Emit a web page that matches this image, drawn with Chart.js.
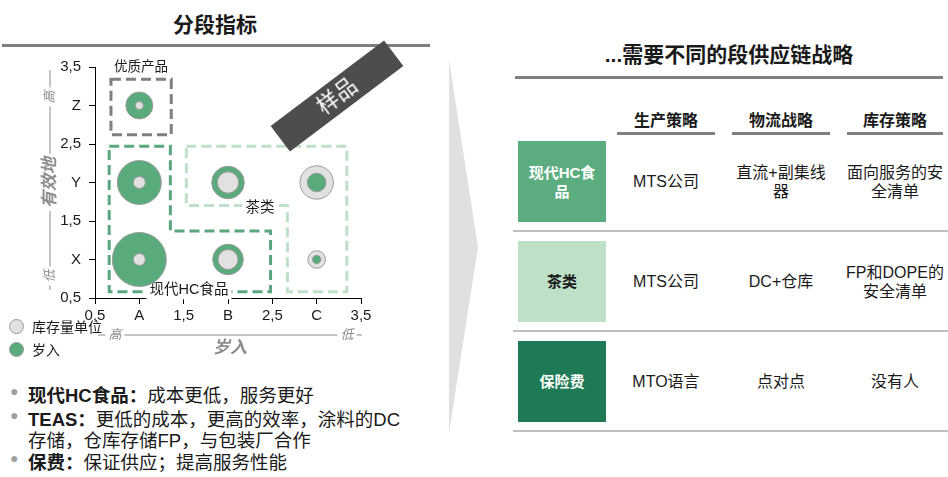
<!DOCTYPE html>
<html lang="zh">
<head>
<meta charset="utf-8">
<title>分段指标</title>
<script src="https://cdn.jsdelivr.net/npm/chart.js@4.4.1/dist/chart.umd.min.js"></script>
<style>
  body {
    margin: 0; width: 948px; height: 477px; position: relative; overflow: hidden; background: #fff;
    font-family: "Liberation Sans", Arial, "Noto Sans CJK SC", sans-serif; color: #1a1a1a;
  }
  .abs { position: absolute; }
  .title { font-size: 21px; font-weight: bold; text-align: center; white-space: nowrap; }
  .rule { background: #7f7f7f; height: 3px; }
  .sep { background: #bfbfbf; height: 2px; }
  .head { font-size: 16px; font-weight: bold; text-align: center; }
  .cell { display: flex; align-items: center; justify-content: center; text-align: center;
          font-size: 16px; line-height: 19px; }
  .seg { font-weight: bold; color: #fff; font-size: 15px; }
  .bullet { font-size: 18.5px; white-space: nowrap; }
  .bullet b { font-weight: bold; }
  .dot { color: #a0a0a0; font-size: 14px; position: absolute; left: -18px; top: 2px; }
  .leg { font-size: 14px; white-space: nowrap; display: flex; align-items: center; }
  .leg i { display: inline-block; width: 13px; height: 13px; border-radius: 50%;
           border: 1px solid #9a9a9a; margin-right: 8px; }
  #stamp { left: 266px; top: 80px; width: 142px; height: 32px; background: #4d4d4d; color: #fff;
           font-size: 22px; line-height: 32px; text-align: center; transform: rotate(-37deg); z-index: 5; }
</style>
</head>
<body>

<div class="abs title" style="left:0; width:430px; top:8px;">分段指标</div>
<div class="abs rule" style="left:2px; width:428px; top:44px;"></div>

<div class="abs" id="chartBox" style="left:0; top:0; width:440px; height:370px;">
  <canvas id="bubbleChart"></canvas>
</div>
<div class="abs" id="stamp">样品</div>

<div class="abs leg" style="left:9px; top:316px;"><i style="background:#e1e1e1"></i>库存量单位</div>
<div class="abs leg" style="left:9px; top:339px;"><i style="background:#5aab7c"></i>岁入</div>

<div class="abs bullet" style="left:28px; top:381px;"><span class="dot">●</span><b>现代HC食品：</b>成本更低，服务更好</div>
<div class="abs bullet" style="left:28px; top:405px;"><span class="dot">●</span><b>TEAS：</b>更低的成本，更高的效率，涂料的DC</div>
<div class="abs bullet" style="left:28px; top:426px;">存储，仓库存储FP，与包装厂合作</div>
<div class="abs bullet" style="left:28px; top:448px;"><span class="dot">●</span><b>保费：</b>保证供应；提高服务性能</div>

<svg class="abs" style="left:440px; top:50px;" width="50" height="400">
  <polygon points="9,10 38,197 9,383" fill="#e0e0e0"></polygon>
</svg>

<div class="abs title" style="left:515px; width:428px; top:38px;">...需要不同的段供应链战略</div>
<div class="abs rule" style="left:515px; width:428px; top:76px;"></div>

<div class="abs head" style="left:617px; width:98px; top:107px;">生产策略</div>
<div class="abs head" style="left:732px; width:98px; top:107px;">物流战略</div>
<div class="abs head" style="left:847px; width:96px; top:107px;">库存策略</div>
<div class="abs rule" style="left:617px; width:98px; top:132px;"></div>
<div class="abs rule" style="left:732px; width:98px; top:132px;"></div>
<div class="abs rule" style="left:847px; width:96px; top:132px;"></div>

<div class="abs cell seg" style="left:518px; width:88px; top:141px; height:81px; background:#5bad80;">现代HC食<br>品</div>
<div class="abs cell" style="left:617px; width:98px; top:141px; height:81px;">MTS公司</div>
<div class="abs cell" style="left:732px; width:98px; top:141px; height:81px;">直流+副集线<br>器</div>
<div class="abs cell" style="left:845px; width:100px; top:141px; height:81px;">面向服务的安<br>全清单</div>
<div class="abs sep" style="left:513px; width:435px; top:230px;"></div>

<div class="abs cell seg" style="left:518px; width:88px; top:241px; height:81px; background:#bee0c6; color:#1a1a1a;">茶类</div>
<div class="abs cell" style="left:617px; width:98px; top:241px; height:81px;">MTS公司</div>
<div class="abs cell" style="left:732px; width:98px; top:241px; height:81px;">DC+仓库</div>
<div class="abs cell" style="left:845px; width:100px; top:241px; height:81px;">FP和DOPE的<br>安全清单</div>
<div class="abs sep" style="left:513px; width:435px; top:330px;"></div>

<div class="abs cell seg" style="left:518px; width:88px; top:341px; height:81px; background:#1e7a55;">保险费</div>
<div class="abs cell" style="left:617px; width:98px; top:341px; height:81px;">MTO语言</div>
<div class="abs cell" style="left:732px; width:98px; top:341px; height:81px;">点对点</div>
<div class="abs cell" style="left:845px; width:100px; top:341px; height:81px;">没有人</div>
<div class="abs sep" style="left:513px; width:435px; top:430px;"></div>

<script>
// Tick labels for both axes (ticks every 0.5)
const xTickLabels = ['0,5', 'A', '1,5', 'B', '2,5', 'C', '3,5'];
const yTickLabels = ['0,5', 'X', '1,5', 'Y', '2,5', 'Z', '3,5'];

// Segment positions (A/B/C = 1/2/3, X/Y/Z = 1/2/3)
const pointX = [1, 1, 1, 2, 2, 3, 3];
const pointY = [3, 2, 1, 2, 1, 2, 1];

// Bubble radii
const revenueR = [13.5, 22, 27, 16.3, 15.3, 9.3, 4.2];   // 岁入
const skuR     = [4, 6, 6, 10.7, 10, 16.7, 8.8];          // 库存量单位

// Dashed segment outlines, in axis units
const premiumBox = [[0.68, 3.34], [1.36, 3.34], [1.36, 2.62], [0.68, 2.62]];
const modernBox  = [[0.66, 2.47], [1.35, 2.47], [1.35, 1.37], [2.48, 1.37], [2.48, 0.58], [0.66, 0.58]];
const teaBox     = [[1.53, 2.47], [3.34, 2.47], [3.34, 0.58], [2.67, 0.58], [2.67, 1.70], [1.53, 1.70]];

const GREEN = '#5aab7c';
const GREY = '#e1e1e1';
const FONT = '"Liberation Sans", Arial, "Noto Sans CJK SC", sans-serif';

// bigger circle goes underneath, smaller one on top
const outerPts = [], innerPts = [], outerCols = [], innerCols = [];
pointX.forEach((px, i) => {
    const revBig = revenueR[i] >= skuR[i];
    outerPts.push({ x: px, y: pointY[i], r: revBig ? revenueR[i] : skuR[i] });
    innerPts.push({ x: px, y: pointY[i], r: revBig ? skuR[i] : revenueR[i] });
    outerCols.push(revBig ? GREEN : GREY);
    innerCols.push(revBig ? GREY : GREEN);
});

function drawRegion(chart, pts, color) {
    const { ctx, scales: { x, y } } = chart;
    ctx.save();
    ctx.setLineDash([10, 5]);
    ctx.lineWidth = 3;
    ctx.strokeStyle = color;
    ctx.beginPath();
    pts.forEach(([px, py], i) => {
        const X = x.getPixelForValue(px), Y = y.getPixelForValue(py);
        if (i) ctx.lineTo(X, Y); else ctx.moveTo(X, Y);
    });
    ctx.closePath();
    ctx.stroke();
    ctx.restore();
}

function boxedText(ctx, text, x, y, font, color, rot) {
    ctx.save();
    ctx.translate(x, y);
    ctx.rotate(rot || 0);
    ctx.font = font;
    const w = ctx.measureText(text).width;
    ctx.fillStyle = '#fff';
    ctx.fillRect(-w / 2 - 3, -9, w + 6, 18);
    ctx.fillStyle = color;
    ctx.textAlign = 'center';
    ctx.textBaseline = 'middle';
    ctx.fillText(text, 0, 0);
    ctx.restore();
}

const segmentPlugin = {
    id: 'segments',
    beforeDatasetsDraw(chart) {
        const { ctx, scales: { x, y } } = chart;
        drawRegion(chart, premiumBox, '#7f7f7f');
        drawRegion(chart, modernBox, '#5aa67e');
        drawRegion(chart, teaBox, '#bfe0c8');
        boxedText(ctx, '优质产品', x.getPixelForValue(1.02), y.getPixelForValue(3.5), '13.5px ' + FONT, '#1a1a1a');
        boxedText(ctx, '现代HC食品', x.getPixelForValue(1.56), y.getPixelForValue(0.6), '14.5px ' + FONT, '#1a1a1a');
        boxedText(ctx, '茶类', x.getPixelForValue(2.36), y.getPixelForValue(1.67), '14.5px ' + FONT, '#1a1a1a');
    },
    afterDraw(chart) {
        const { ctx, chartArea: a } = chart;
        const grey = '#8c8c8c';
        ctx.save();
        ctx.strokeStyle = grey;
        ctx.lineWidth = 1;
        // x axis note
        const ly = a.bottom + 37;
        ctx.beginPath(); ctx.moveTo(a.left + 3, ly); ctx.lineTo(a.right + 1, ly); ctx.stroke();
        // y axis note
        const lx = a.left - 45;
        ctx.beginPath(); ctx.moveTo(lx, a.top + 3); ctx.lineTo(lx, a.bottom - 8); ctx.stroke();
        ctx.restore();

        boxedText(ctx, '高', a.left + 20, ly, 'italic 13px ' + FONT, grey);
        boxedText(ctx, '低', a.right - 14, ly, 'italic 13px ' + FONT, grey);
        ctx.save();
        ctx.font = 'italic bold 17px ' + FONT;
        ctx.fillStyle = grey;
        ctx.textAlign = 'center';
        ctx.textBaseline = 'middle';
        ctx.fillText('岁入', (a.left + a.right) / 2 + 2, ly + 13);
        ctx.restore();

        boxedText(ctx, '高', lx, a.top + 30, 'italic 13px ' + FONT, grey, -Math.PI / 2);
        boxedText(ctx, '有效地', lx, (a.top + a.bottom) / 2, 'italic bold 17px ' + FONT, grey, -Math.PI / 2);
        boxedText(ctx, '低', lx, a.bottom - 22, 'italic 13px ' + FONT, grey, -Math.PI / 2);
    }
};

function tickIndex(v) { return Math.round((v - 0.5) / 0.5); }

const axisCommon = {
    min: 0.5,
    max: 3.5,
    grid: { drawOnChartArea: false, drawTicks: true, tickLength: 6, color: '#000' },
    border: { color: '#000', width: 1 }
};

new Chart(document.getElementById('bubbleChart'), {
    type: 'bubble',
    data: {
        datasets: [
            {
                label: 'inner',
                data: innerPts,
                backgroundColor: innerCols,
                borderColor: '#9a9a9a',
                borderWidth: 1,
                order: 0
            },
            {
                label: 'outer',
                data: outerPts,
                backgroundColor: outerCols,
                borderColor: '#9a9a9a',
                borderWidth: 1,
                order: 1
            }
        ]
    },
    options: {
        responsive: true,
        maintainAspectRatio: false,
        animation: false,
        layout: { padding: { left: 60, right: 79, top: 67, bottom: 47 } },
        plugins: {
            legend: { display: false },
            tooltip: { enabled: false }
        },
        scales: {
            x: {
                ...axisCommon,
                afterFit(scale) { scale.height = 25; },
                ticks: {
                    stepSize: 0.5,
                    padding: 3,
                    color: '#1a1a1a',
                    font: { family: FONT, size: 15 },
                    maxRotation: 0,
                    autoSkip: false,
                    callback: v => xTickLabels[tickIndex(v)]
                }
            },
            y: {
                ...axisCommon,
                afterFit(scale) { scale.width = 35; },
                ticks: {
                    stepSize: 0.5,
                    padding: 8,
                    color: '#1a1a1a',
                    font: { family: FONT, size: 15 },
                    autoSkip: false,
                    callback: v => yTickLabels[tickIndex(v)]
                }
            }
        }
    },
    plugins: [segmentPlugin]
});
</script>
</body>
</html>
